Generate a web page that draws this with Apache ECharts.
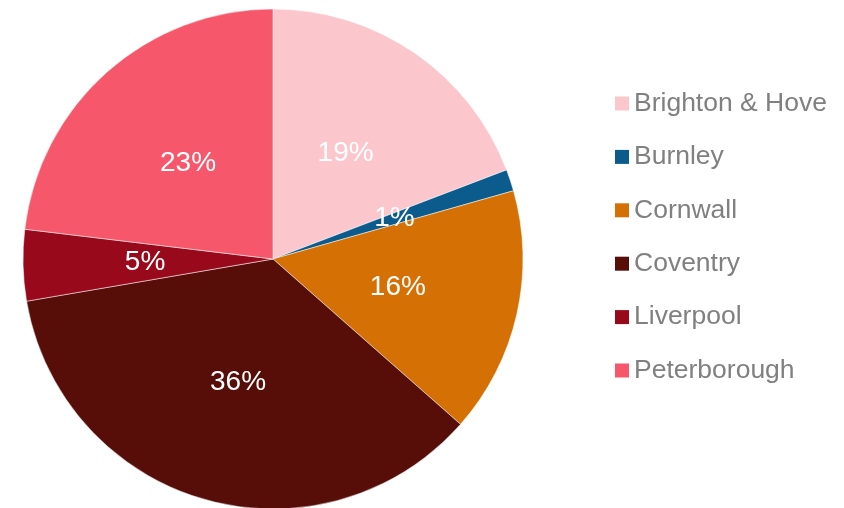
<!DOCTYPE html>
<html>
<head>
<meta charset="utf-8">
<script src="https://cdn.jsdelivr.net/npm/echarts@6/dist/echarts.min.js"></script>
<style>
  html, body { margin: 0; padding: 0; background: #fff; }
  #chart { width: 844px; height: 508px; }
</style>
</head>
<body>
<div id="chart"></div>
<script>
// Share of total by area (percent)
const areas = ['Brighton & Hove', 'Burnley', 'Cornwall', 'Coventry', 'Liverpool', 'Peterborough'];
const shares = [19.2, 1.4, 15.9, 35.8, 4.6, 23.1];
const sliceColors = ['#FCC6CD', '#0B5B8C', '#D57005', '#570E09', '#980A1B', '#F6576B'];

const chart = echarts.init(document.getElementById('chart'), null, { renderer: 'canvas' });

const pieData = areas.map((name, i) => ({
  name: name,
  value: shares[i],
  itemStyle: { color: sliceColors[i] }
}));

chart.setOption({
  animation: false,
  backgroundColor: '#ffffff',
  legend: {
    orient: 'vertical',
    left: 615,
    top: 90,
    padding: 0,
    itemWidth: 14,
    itemHeight: 14,
    itemGap: 26.4,
    icon: 'rect',
    itemStyle: { borderWidth: 0 },
    data: areas,
    textStyle: {
      color: '#808080',
      fontSize: 26.5,
      fontFamily: 'Liberation Sans, Arial, sans-serif'
    }
  },
  series: [{
    type: 'pie',
    center: [273, 259],
    radius: 250,
    startAngle: 90,
    clockwise: true,
    avoidLabelOverlap: false,
    itemStyle: { borderColor: '#ffffff', borderWidth: 0.5 },
    label: {
      show: true,
      position: 'inside',
      color: '#ffffff',
      fontSize: 28,
      fontFamily: 'Liberation Sans, Arial, sans-serif',
      formatter: p => Math.round(p.percent) + '%'
    },
    labelLine: { show: false },
    emphasis: { disabled: true },
    data: pieData
  }]
});
</script>
</body>
</html>
